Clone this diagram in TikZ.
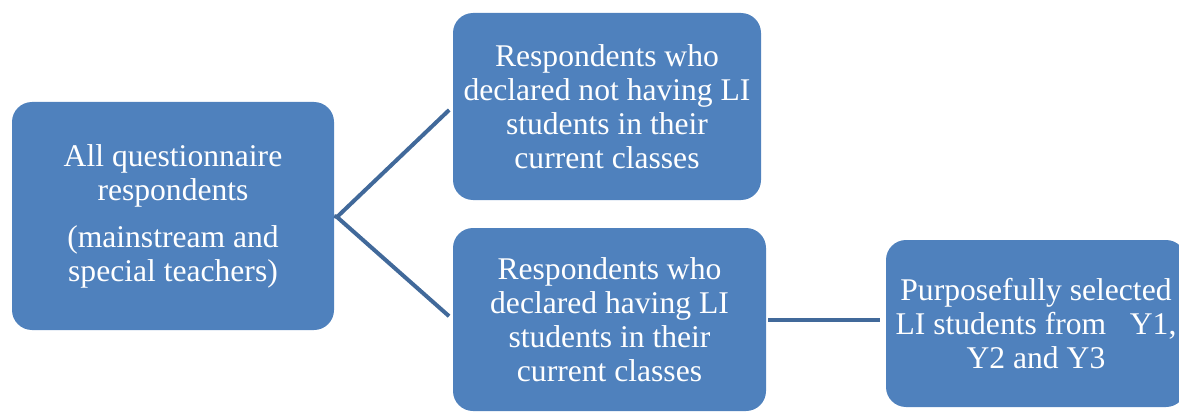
\documentclass[tikz,border=0pt]{standalone}
\usepackage{fontspec}
\setmainfont{Liberation Serif}
\definecolor{boxblue}{HTML}{4F81BD}
\definecolor{linkblue}{HTML}{41699A}
\begin{document}
\begin{tikzpicture}[x=1pt,y=-1pt,
  box/.style={fill=boxblue, rounded corners=20pt, text=white, align=center,
    inner sep=0pt, font=\fontsize{31.6}{34}\selectfont},
  link/.style={draw=linkblue, line width=4pt}]
\useasboundingbox (0,0) rectangle (1179,412);
\node[box, minimum width=322pt, minimum height=228pt] (all) at (173,216)
  {All questionnaire\\respondents\\[13pt](mainstream and\\special teachers)};
\node[box, minimum width=308pt, minimum height=187pt] (notli) at (607,106.5)
  {Respondents who\\declared not having LI\\students in their\\current classes};
\node[box, minimum width=313pt, minimum height=183pt] (withli) at (609.5,319.5)
  {Respondents who\\declared having LI\\students in their\\current classes};
\node[box, minimum width=300pt, minimum height=167pt] (sel) at (1036,323.5)
  {Purposefully selected\\LI students from\ \ \ Y1,\\Y2 and Y3};
\coordinate (fork) at (337,217);
\draw[link, shorten >=5pt] (fork) -- (notli.west);
\draw[link, shorten >=5pt] (fork) -- (withli.west);
\draw[link] (all.east) -- (fork);
\draw[link, shorten <=2pt, shorten >=6pt] (withli.east) -- (sel.west |- withli.east);
\end{tikzpicture}
\end{document}
